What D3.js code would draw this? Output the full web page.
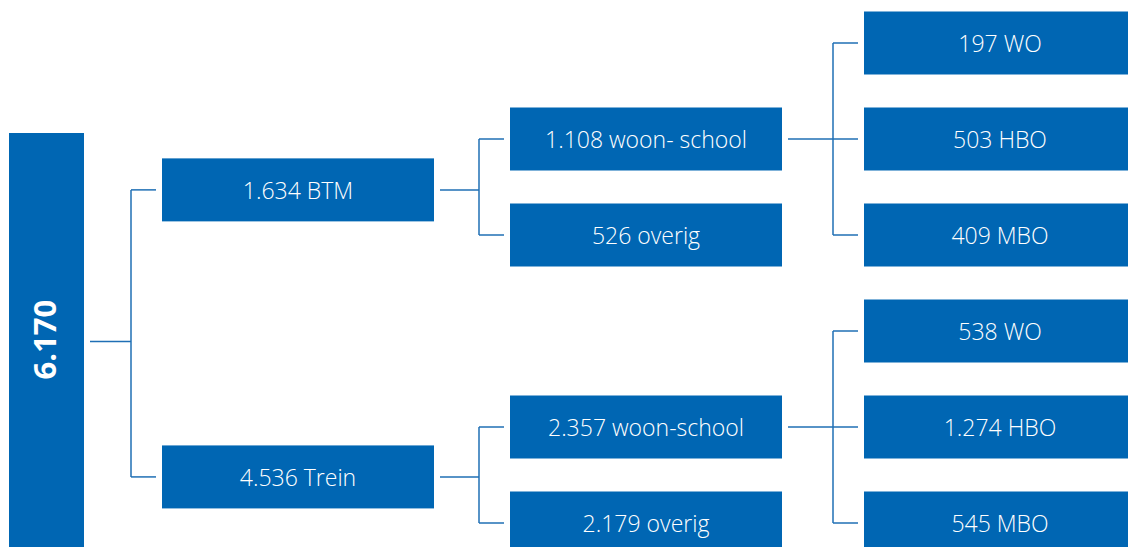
<!DOCTYPE html>
<html>
<head>
<meta charset="utf-8">
<script src="https://cdn.jsdelivr.net/npm/d3@7"></script>
<style>
  body { margin: 0; background: #fff; }
  svg { display: block; }
</style>
</head>
<body>
<svg id="tree" width="1128" height="547"></svg>
<script>
// node data: id, parent, label, level (column), row (vertical slot)
const ids     = ["root", "btm", "trein", "btm_ws", "btm_ov", "tr_ws", "tr_ov", "btm_wo", "btm_hbo", "btm_mbo", "tr_wo", "tr_hbo", "tr_mbo"];
const parents = ["",     "root", "root", "btm",    "btm",    "trein", "trein", "btm_ws", "btm_ws", "btm_ws", "tr_ws", "tr_ws", "tr_ws"];
const labels  = ["6.170", "1.634 BTM", "4.536 Trein", "1.108 woon- school", "526 overig", "2.357 woon-school", "2.179 overig",
                 "197 WO", "503 HBO", "409 MBO", "538 WO", "1.274 HBO", "545 MBO"];
const levels  = [0, 1, 1, 2, 2, 2, 2, 3, 3, 3, 3, 3, 3];
const rows    = [3.11, 1.53, 4.52, 1, 2, 4, 5, 0, 1, 2, 3, 4, 5];

const svg = d3.select('#tree');
const width = +svg.attr('width');
const height = +svg.attr('height');

const boxFill = "#0066b3";
const lineColor = "#1f6fb5";
const boxH = 63;

// column positions (left edge) and widths per level
const xLeft = d3.scaleOrdinal().domain([0, 1, 2, 3]).range([9, 162, 510, 864]);
const boxW = d3.scaleOrdinal().domain([0, 1, 2, 3]).range([75, 272, 272, 280]);
const y = d3.scaleLinear().domain([0, 5]).range([43, 523]);

const nodes = ids.map((id, i) => ({ id: id, parentId: parents[i] || null, label: labels[i], level: levels[i], row: rows[i] }));
const root = d3.stratify().id(d => d.id).parentId(d => d.parentId)(nodes);

// connectors (elbows)
const links = svg.append("g")
  .attr("fill", "none")
  .attr("stroke", lineColor)
  .attr("stroke-width", 1.5);

root.descendants().filter(d => d.children).forEach(p => {
  const px = xLeft(p.data.level) + boxW(p.data.level) + 6;
  const cx = xLeft(p.data.level + 1) - 6;
  const mx = cx - 25;
  const py = y(p.data.row);
  links.append("line").attr("x1", px).attr("x2", mx).attr("y1", py).attr("y2", py);
  const ys = p.children.map(c => y(c.data.row));
  links.append("line").attr("x1", mx).attr("x2", mx).attr("y1", d3.min(ys)).attr("y2", d3.max(ys));
  p.children.forEach(c => {
    const cy = y(c.data.row);
    links.append("line").attr("x1", mx).attr("x2", cx).attr("y1", cy).attr("y2", cy);
  });
});

// boxes
const boxes = svg.append("g").selectAll("g")
  .data(root.descendants())
  .join("g");

boxes.append("rect")
  .attr("x", d => xLeft(d.data.level))
  .attr("y", d => d.data.level === 0 ? 133 : y(d.data.row) - boxH / 2)
  .attr("width", d => boxW(d.data.level))
  .attr("height", d => d.data.level === 0 ? height - 133 + 10 : boxH)
  .attr("fill", boxFill);

boxes.filter(d => d.data.level > 0).append("text")
  .attr("x", d => xLeft(d.data.level) + boxW(d.data.level) / 2 - (d.data.level === 3 ? 4 : 0))
  .attr("y", d => y(d.data.row) + 3)
  .attr("text-anchor", "middle")
  .attr("dominant-baseline", "middle")
  .attr("fill", "#fff")
  .attr("font-family", "'Open Sans', 'Noto Sans', sans-serif")
  .attr("font-weight", 300)
  .attr("font-size", 23)
  .text(d => d.data.label);

boxes.filter(d => d.data.level === 0).append("text")
  .attr("transform", d => `translate(${xLeft(0) + boxW(0) / 2 + 1},${y(d.data.row) - 2}) rotate(-90)`)
  .attr("text-anchor", "middle")
  .attr("dominant-baseline", "middle")
  .attr("fill", "#fff")
  .attr("font-family", "'Open Sans', 'Noto Sans', sans-serif")
  .attr("font-weight", 700)
  .attr("font-size", 31)
  .text(d => d.data.label);
</script>
</body>
</html>
